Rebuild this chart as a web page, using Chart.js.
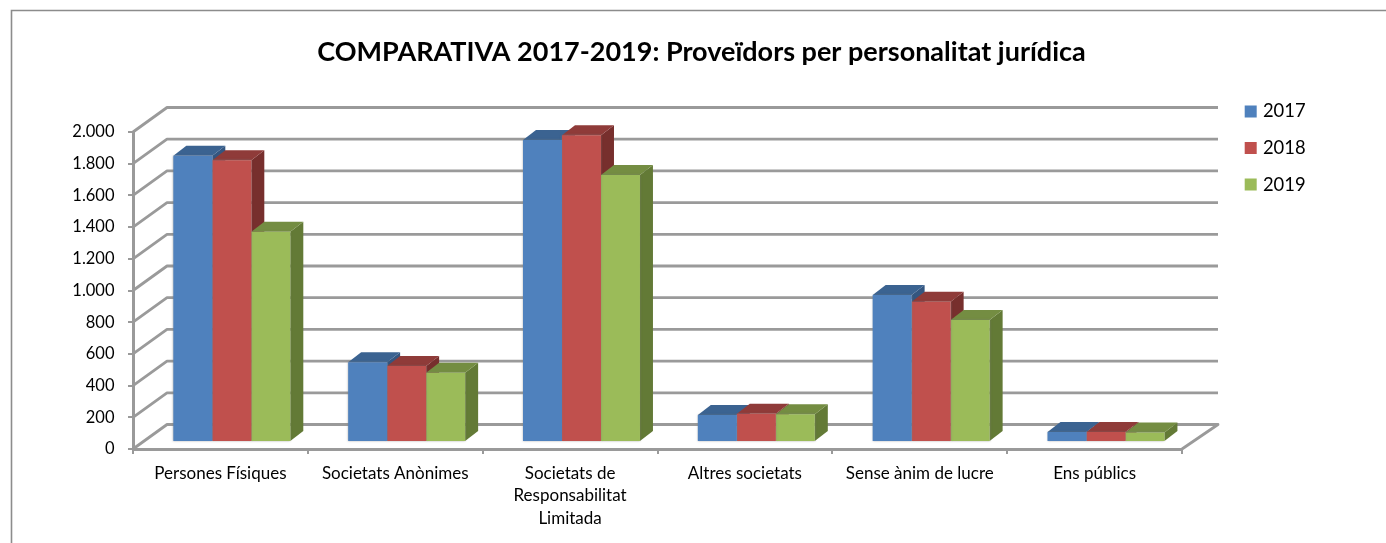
<!DOCTYPE html>
<html>
<head>
<meta charset="utf-8">
<style>html,body{margin:0;padding:0;background:#fff}canvas{display:block}</style>
<script src="https://cdn.jsdelivr.net/npm/chart.js@4"></script>
</head>
<body>
<canvas id="c" width="1386" height="543"></canvas>
<script>
const chartTitle = 'COMPARATIVA 2017-2019: Proveïdors per personalitat jurídica';
const categories = ['Persones Físiques','Societats Anònimes',['Societats de','Responsabilitat','Limitada'],'Altres societats','Sense ànim de lucre','Ens públics'];
const seriesNames = ['2017','2018','2019'];
const values2017 = [1806,503,1905,170,927,63];
const values2018 = [1777,480,1935,179,885,63];
const values2019 = [1327,437,1685,175,770,60];
const yTickValues = [0,200,400,600,800,1000,1200,1400,1600,1800,2000];
const yTickLabels = ['0','200','400','600','800','1.000','1.200','1.400','1.600','1.800','2.000'];
const frontColors = ['#4F81BD','#C0504D','#9BBB59'];
const topColors = ['#3B6391','#8F3B39','#748D42'];
const sideColors = ['#345680','#772F2D','#637A36'];
const gridColor = '#9A9A9A';
const FONT = 'Lato, Carlito, Calibri, sans-serif';

const wall = {dx:34, dy:-24.5};
const barPlane = {dx:11.4, dy:-7};
const barDepth = {dx:13, dy:-10};

const poly = (ctx, pts, fill) => {
  ctx.beginPath();
  pts.forEach((p,i)=> i?ctx.lineTo(p[0],p[1]):ctx.moveTo(p[0],p[1]));
  ctx.closePath(); ctx.fillStyle = fill; ctx.fill();
};

const threeD = {
  id:'threeD',
  afterLayout(chart){
    const t = chart.titleBlock; t.left += 110.5; t.right += 110.5;
    const l = chart.legend;
    l.left = 1229.5; l.right = l.left + 120; l.top = 84; l.bottom = 400;
    l.adjustHitBoxes();
  },
  beforeDraw(chart){
    const ctx = chart.ctx; ctx.save();
    ctx.strokeStyle = '#8C8C8C'; ctx.lineWidth = 1.6;
    ctx.beginPath(); ctx.moveTo(11.5,543); ctx.lineTo(11.5,10.5); ctx.lineTo(1386,10.5); ctx.stroke();
    ctx.restore();
  },
  beforeDatasetsDraw(chart){
    const ctx = chart.ctx, {x:xs, y:ys} = chart.scales, a = chart.chartArea;
    ctx.save();
    ctx.strokeStyle = gridColor; ctx.lineWidth = 2.8; ctx.lineJoin = 'round';
    const backR = a.right + wall.dx + 2;
    yTickValues.forEach(v=>{
      const y = ys.getPixelForValue(v);
      ctx.beginPath();
      ctx.moveTo(a.left,y); ctx.lineTo(a.left+wall.dx,y+wall.dy); ctx.lineTo(backR,y+wall.dy);
      if(v===0) ctx.lineTo(a.right,y);
      ctx.stroke();
    });
    ctx.restore();
    ctx.save();
    ctx.translate(barPlane.dx,barPlane.dy);
    const d = barDepth;
    for(let i=0;i<chart.data.datasets.length;i++){
      chart.getDatasetMeta(i).data.forEach(el=>{
        const l=el.x-el.width/2, r=el.x+el.width/2, t=el.y, b=el.base;
        poly(ctx,[[r,t],[r+d.dx,t+d.dy],[r+d.dx,b+d.dy],[r,b]],sideColors[i]);
        poly(ctx,[[l,t],[l+d.dx,t+d.dy],[r+d.dx,t+d.dy],[r,t]],topColors[i]);
      });
    }
    ctx.shadowColor='rgba(120,120,120,0.6)'; ctx.shadowBlur=2;
    // the translate stays active while the library paints the bar fronts
  },
  afterDatasetsDraw(chart){ chart.ctx.restore(); }
};

new Chart(document.getElementById('c'),{
  type:'bar',
  data:{labels:categories,datasets:[
    {label:seriesNames[0],data:values2017,backgroundColor:frontColors[0]},
    {label:seriesNames[1],data:values2018,backgroundColor:frontColors[1]},
    {label:seriesNames[2],data:values2019,backgroundColor:frontColors[2]}
  ]},
  options:{
    responsive:false,animation:false,devicePixelRatio:1,
    layout:{padding:{left:0,right:204,top:0,bottom:0}},
    datasets:{bar:{categoryPercentage:0.669,barPercentage:1,borderWidth:0,clip:false}},
    plugins:{
      tooltip:{enabled:false},
      title:{display:true,text:chartTitle,color:'#000',font:{family:FONT,size:27,weight:'bold',lineHeight:1.2},padding:{top:36,bottom:63.6}},
      legend:{position:'chartArea',align:'start',labels:{
        color:'#000',font:{family:FONT,size:18.4},padding:18.2,boxWidth:6,boxHeight:6,
        generateLabels:c=>c.data.datasets.map((d,i)=>({text:d.label,fillStyle:d.backgroundColor,strokeStyle:d.backgroundColor,lineWidth:6,datasetIndex:i}))
      }}
    },
    scales:{
      x:{
        afterFit(s){s.height=94;},
        grid:{display:true,drawOnChartArea:false,drawTicks:true,tickLength:5,color:gridColor,lineWidth:2},
        border:{display:true,color:gridColor,width:3},
        ticks:{color:'#000',font:{family:FONT,size:17,lineHeight:1.31},padding:8.5,autoSkip:false,maxRotation:0,minRotation:0}
      },
      y:{
        min:0,max:2000,
        afterFit(s){s.width=133;},
        grid:{display:true,drawOnChartArea:false,drawTicks:true,tickLength:5,color:gridColor,lineWidth:2},
        border:{display:true,color:gridColor,width:3},
        ticks:{color:'#000',font:{family:FONT,size:16.5},padding:13.5,stepSize:200,
          callback:v=>yTickLabels[yTickValues.indexOf(v)]}
      }
    }
  },
  plugins:[threeD]
});
</script>
</body>
</html>
